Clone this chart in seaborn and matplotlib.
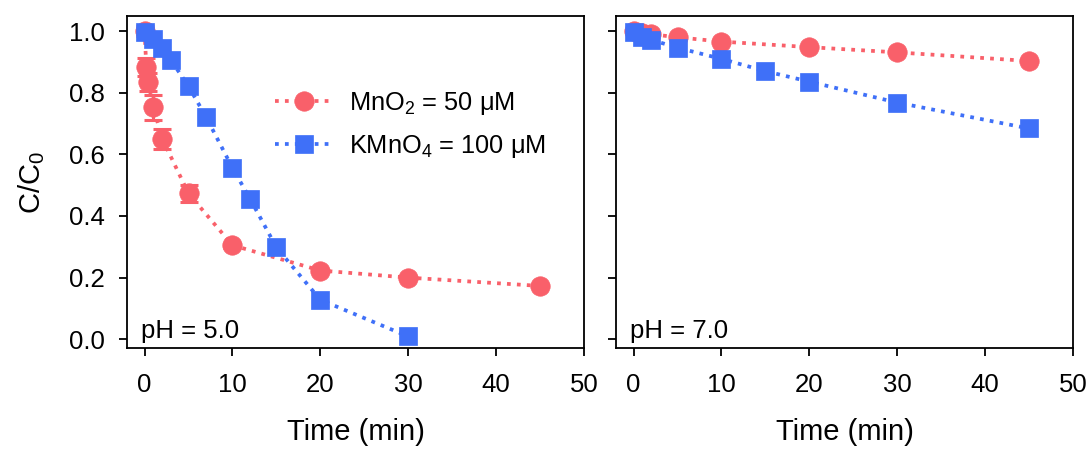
import numpy as np
import pandas as pd
import matplotlib
matplotlib.use("Agg")
import matplotlib.pyplot as plt
import seaborn as sns

# ---- data ----
t_mno2_ph5 = [0, 0.2, 0.4, 1, 2, 5, 10, 20, 30, 45]
c_mno2_ph5 = [1.0, 0.883, 0.835, 0.753, 0.651, 0.473, 0.305, 0.223, 0.200, 0.173]
e_mno2_ph5 = [0.015, 0.03, 0.03, 0.04, 0.032, 0.028, 0.008, 0.006, 0.006, 0.005]

t_kmno4_ph5 = [0, 1, 2, 3, 5, 7, 10, 12, 15, 20, 30]
c_kmno4_ph5 = [0.997, 0.973, 0.946, 0.906, 0.821, 0.721, 0.556, 0.456, 0.298, 0.128, 0.009]

t_mno2_ph7 = [0, 1, 2, 5, 10, 20, 30, 45]
c_mno2_ph7 = [1.0, 0.995, 0.99, 0.98, 0.966, 0.948, 0.931, 0.903]

t_kmno4_ph7 = [0, 1, 2, 5, 10, 15, 20, 30, 45]
c_kmno4_ph7 = [0.997, 0.98, 0.972, 0.946, 0.910, 0.870, 0.836, 0.768, 0.684]

labels = [r"$\mathregular{MnO_2}$ = 50 μM", r"$\mathregular{KMnO_4}$ = 100 μM"]
ph_labels = ["pH = 5.0", "pH = 7.0"]
xticks = [0, 10, 20, 30, 40, 50]
yticks = [0.0, 0.2, 0.4, 0.6, 0.8, 1.0]

RED = "#F9606A"
BLUE = "#3F70F8"

sns.set_theme(style="ticks")
plt.rcParams["font.family"] = ["Liberation Sans", "DejaVu Sans"]
plt.rcParams["mathtext.fontset"] = "custom"
plt.rcParams["mathtext.rm"] = "Liberation Sans"
plt.rcParams["mathtext.it"] = "Liberation Sans:italic"
plt.rcParams["mathtext.bf"] = "Liberation Sans:bold"
for k in ["text.color", "axes.labelcolor", "xtick.color", "ytick.color",
          "axes.edgecolor", "xtick.labelcolor", "ytick.labelcolor"]:
    plt.rcParams[k] = "black"

fig = plt.figure(figsize=(10.91, 4.5), dpi=100)
ax1 = fig.add_axes([0.1164, 0.2256, 0.5353 - 0.1164, 0.9644 - 0.2256])
ax2 = fig.add_axes([0.5646, 0.2256, 0.9835 - 0.5646, 0.9644 - 0.2256], sharey=ax1)


def draw(ax, t_r, c_r, t_b, c_b, e_r=None):
    sns.lineplot(x=t_r, y=c_r, ax=ax, color=RED, marker="o",
                 markeredgecolor=RED, markeredgewidth=0.5, label=labels[0],
                 zorder=3, linestyle=":", linewidth=2.7, markersize=14)
    if e_r is not None:
        ax.errorbar(t_r, c_r, yerr=e_r, fmt="none", ecolor=RED,
                    elinewidth=2.2, capsize=6.5, capthick=2.2, zorder=2)
    sns.lineplot(x=t_b, y=c_b, ax=ax, color=BLUE, marker="s",
                 markeredgecolor=BLUE, markeredgewidth=0.5, label=labels[1],
                 zorder=4, linestyle=":", linewidth=2.7, markersize=13)


draw(ax1, t_mno2_ph5, c_mno2_ph5, t_kmno4_ph5, c_kmno4_ph5, e_mno2_ph5)
draw(ax2, t_mno2_ph7, c_mno2_ph7, t_kmno4_ph7, c_kmno4_ph7)

for ax, ph in zip([ax1, ax2], ph_labels):
    ax.set_xlim(-2, 50)
    ax.set_ylim(-0.03, 1.049)
    ax.set_xticks(xticks)
    ax.set_yticks(yticks)
    ax.tick_params(axis="both", direction="out", length=6, width=1.3,
                   labelsize=18.5, color="black", pad=10)
    ax.tick_params(axis="x", pad=12)
    for s in ax.spines.values():
        s.set_visible(True)
        s.set_linewidth(1.3)
        s.set_color("black")
    ax.set_xlabel("Time (min)", fontsize=21, labelpad=15)
    ax.text(0.03, 0.033, ph, transform=ax.transAxes, fontsize=18.5,
            ha="left", va="baseline")

ax1.set_yticklabels(["0.0", "0.2", "0.4", "0.6", "0.8", "1.0"])
ax1.set_ylabel(r"C/C$\mathregular{_0}$", fontsize=21, labelpad=16)
ax2.set_ylabel("")
plt.setp(ax2.get_yticklabels(), visible=False)

ax2.get_legend().remove()
leg = ax1.legend(loc="center left", bbox_to_anchor=(0.274, 0.672),
                 frameon=False, fontsize=18.3, handlelength=2.3,
                 handletextpad=0.6, labelspacing=0.62, borderpad=0.4)

fig.savefig("out.png", dpi=100)
